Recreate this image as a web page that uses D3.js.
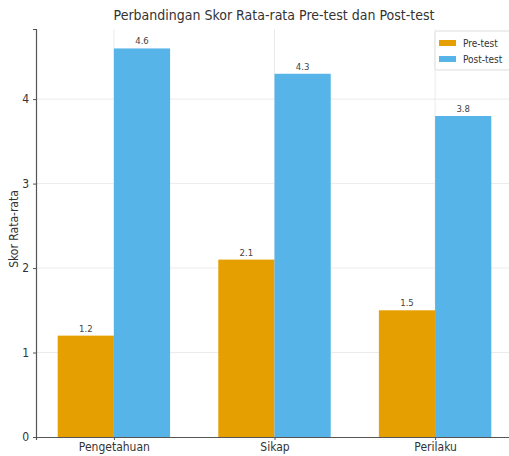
<!DOCTYPE html>
<html><head><meta charset="utf-8">
<script src="https://cdn.jsdelivr.net/npm/d3@7"></script>
<style>body{margin:0;background:#fff}svg{display:block}text{font-family:"DejaVu Sans Condensed","DejaVu Sans",sans-serif}</style>
</head><body><svg id="c" width="509" height="456"></svg>
<script>
const categories = ["Pengetahuan", "Sikap", "Perilaku"];
const seriesNames = ["Pre-test", "Post-test"];
const preTest = [1.2, 2.1, 1.5];
const postTest = [4.6, 4.3, 3.8];
const yTicks = [0, 1, 2, 3, 4];
const colors = ["#E69F00", "#56B4E9"];

const svg = d3.select("#c");
const m = {l: 36, r: -4, t: 29, b: 19};
const W = 509, H = 456;
const iw = W - m.l - m.r, ih = H - m.t - m.b;
const g = svg.append("g").attr("transform", `translate(${m.l},${m.t})`);
const FF = '"DejaVu Sans Condensed","DejaVu Sans",sans-serif';

const x = d3.scaleLinear().domain([-0.485, 2.485]).range([0, iw]);
const y = d3.scaleLinear().domain([0, 4.83]).range([ih, 0]);
const bw = x(0.35) - x(0);

// grid
g.append("g").selectAll("line").data(yTicks.slice(1)).join("line")
  .attr("x1", 0).attr("x2", iw).attr("y1", d => y(d)).attr("y2", d => y(d))
  .attr("stroke", "#ebebeb").attr("stroke-width", 1);
g.append("g").selectAll("line").data(categories).join("line")
  .attr("x1", (d, i) => x(i)).attr("x2", (d, i) => x(i)).attr("y1", 0).attr("y2", ih)
  .attr("stroke", "#ebebeb").attr("stroke-width", 1);

const series = [preTest, postTest];
series.forEach((vals, s) => {
  const off = s === 0 ? -0.35 : 0;
  g.append("g").selectAll("rect").data(vals).join("rect")
    .attr("x", (d, i) => x(i + off)).attr("width", bw)
    .attr("y", d => y(d)).attr("height", d => ih - y(d))
    .attr("fill", colors[s]);
  g.append("g").selectAll("text").data(vals).join("text")
    .attr("x", (d, i) => x(i + off) + bw / 2).attr("y", d => y(d) - 4)
    .attr("text-anchor", "middle").attr("font-size", 9.5).attr("fill", "#444")
    .text(d => d.toFixed(1));
});

// axes
const ya = g.append("g").call(d3.axisLeft(y).tickValues(yTicks).tickSize(3).tickPadding(4).tickFormat(d3.format("d")));
ya.select(".domain").attr("stroke", "#555").attr("stroke-width", 1.2);
ya.selectAll(".tick line").attr("stroke", "#555");
ya.selectAll("text").attr("font-size", 12).attr("fill", "#333").attr("font-family", FF);

const xa = g.append("g").attr("transform", `translate(0,${ih})`)
  .call(d3.axisBottom(x).tickValues([0, 1, 2]).tickSize(3).tickPadding(2).tickFormat((d) => categories[d]));
xa.select(".domain").attr("stroke", "#555").attr("stroke-width", 1.2);
xa.selectAll(".tick line").attr("stroke", "#555");
xa.selectAll("text").attr("font-size", 12).attr("fill", "#333").attr("font-family", FF);

// title
svg.append("text").attr("x", 274).attr("y", 20).attr("text-anchor", "middle")
  .attr("font-size", 14).attr("fill", "#333").text("Perbandingan Skor Rata-rata Pre-test dan Post-test");
// y label
svg.append("text").attr("transform", "translate(18,229) rotate(-90)").attr("text-anchor", "middle")
  .attr("font-size", 12).attr("fill", "#333").text("Skor Rata-rata");

// legend
const lg = svg.append("g").attr("transform", "translate(435,31)");
lg.append("rect").attr("width", 78).attr("height", 39).attr("fill", "#fff").attr("stroke", "#ddd").attr("rx", 2);
seriesNames.forEach((n, i) => {
  lg.append("rect").attr("x", 4).attr("y", 9 + i * 16).attr("width", 17).attr("height", 6).attr("fill", colors[i]);
  lg.append("text").attr("x", 28).attr("y", 16 + i * 16).attr("font-size", 10).attr("fill", "#333").text(n);
});
</script></body></html>
